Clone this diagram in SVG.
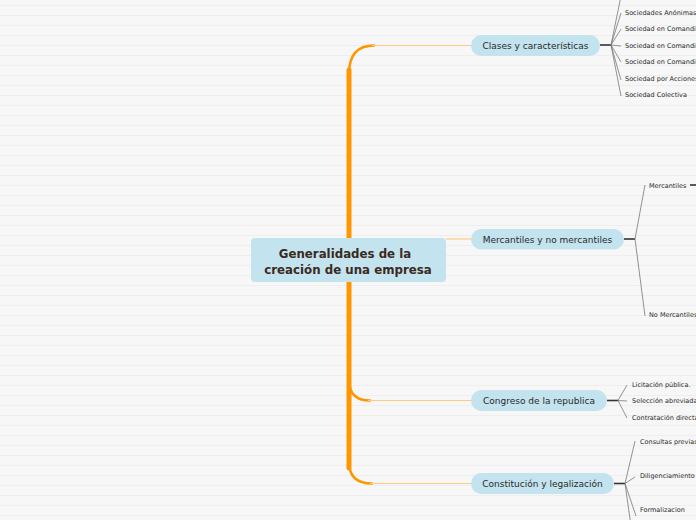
<svg xmlns="http://www.w3.org/2000/svg" width="696" height="520" viewBox="0 0 696 520">
<defs>
<pattern id="grid" width="10" height="10" patternUnits="userSpaceOnUse">
<rect width="10" height="10" fill="#f7f7f7"/>
<rect y="5" width="10" height="1" fill="#eeeeee"/>
</pattern>
</defs>
<style>
.trunk{fill:none;stroke:#ff9500;stroke-linecap:round}
.thin{fill:none;stroke:#ffcb80;stroke-width:1.2}
.fork{stroke:#333;stroke-width:1.6}
.leaf{stroke:#777;stroke-width:0.8;fill:none}
.pill{fill:#c3e3ef}
.nt{font-family:"DejaVu Sans",Verdana,sans-serif;font-size:9px;fill:#2a2a2a;text-anchor:middle}
.ct{font-family:"DejaVu Sans",Verdana,sans-serif;font-size:11.8px;font-weight:bold;fill:#3b2a1e;text-anchor:middle}
.lt{font-family:"DejaVu Sans",Verdana,sans-serif;font-size:6.5px;fill:#2a2a2a}
</style>
<rect width="696" height="520" fill="url(#grid)"/>
<g id="connectors">
<path class="trunk" d="M349,70 L349,468" stroke-width="5"/>
<path class="trunk" d="M349,74 Q349,45.5 374,45.5" stroke-width="2.5"/>
<path class="thin" d="M372,45.5 L472,45.5"/>
<path class="thin" d="M446,239 L472,239"/>
<path class="trunk" d="M349,380 Q349,400.5 370,400.5" stroke-width="2.5"/>
<path class="thin" d="M368,400.5 L472,400.5"/>
<path class="trunk" d="M349,462 Q349,483.5 372,483.5" stroke-width="2.5"/>
<path class="thin" d="M370,483.5 L472,483.5"/>
<line class="fork" x1="600" y1="45" x2="611" y2="45"/>
<path class="leaf" d="M611,45 L621,-4 M611,45 L621,13 M611,45 L621,29 M611,45 L621,46 M611,45 L621,62 M611,45 L621,80 M611,45 L621,96"/>
<line class="fork" x1="624" y1="239" x2="635" y2="239"/>
<path class="leaf" d="M635,239 L645,185 M635,239 L645,316"/>
<line class="fork" x1="690" y1="185" x2="696" y2="185"/>
<line class="fork" x1="607" y1="400.5" x2="618" y2="400.5"/>
<path class="leaf" d="M618,400.5 L627,385 M618,400.5 L627,401 M618,400.5 L627,418"/>
<line class="fork" x1="614" y1="483.5" x2="625" y2="483.5"/>
<path class="leaf" d="M625,483.5 L635,441 M625,483.5 L635,477 M625,483.5 L636,516 M625,483.5 L633,540"/>
</g>
<g id="root">
<rect x="251" y="238" width="195" height="44" rx="4" class="pill"/>
<text class="ct" x="345" y="258">Generalidades de la</text>
<text class="ct" x="348" y="274">creación de una empresa</text>
</g>
<g id="n-clases">
<rect x="471" y="35" width="129" height="21" rx="10.5" class="pill"/>
<text class="nt" x="535.5" y="48.5">Clases y características</text>
</g>
<g id="n-mercantiles">
<rect x="471" y="229" width="153" height="20.5" rx="10.25" class="pill"/>
<text class="nt" x="547.5" y="242.5">Mercantiles y no mercantiles</text>
</g>
<g id="n-congreso">
<rect x="471" y="390" width="136" height="21" rx="10.5" class="pill"/>
<text class="nt" x="539" y="403.5">Congreso de la republica</text>
</g>
<g id="n-constitucion">
<rect x="471" y="473" width="143" height="21" rx="10.5" class="pill"/>
<text class="nt" x="542.5" y="486.5">Constitución y legalización</text>
</g>
<g id="leaves-clases">
<text class="lt" x="625" y="15">Sociedades Anónimas</text>
<text class="lt" x="625" y="31">Sociedad en Comandi</text>
<text class="lt" x="625" y="47.5">Sociedad en Comandi</text>
<text class="lt" x="625" y="63.5">Sociedad en Comandi</text>
<text class="lt" x="625" y="80.5">Sociedad por Acciones</text>
<text class="lt" x="625" y="96.5">Sociedad Colectiva</text>
</g>
<g id="leaves-mercantiles">
<text class="lt" x="649" y="187.5">Mercantiles</text>
<text class="lt" x="649" y="316.5">No Mercantiles</text>
</g>
<g id="leaves-congreso">
<text class="lt" x="632" y="386.5">Licitación pública.</text>
<text class="lt" x="632" y="402.5">Selección abreviada</text>
<text class="lt" x="632" y="419.5">Contratación directa</text>
</g>
<g id="leaves-constitucion">
<text class="lt" x="640" y="443.5">Consultas previas</text>
<text class="lt" x="640" y="478">Diligenciamiento</text>
<text class="lt" x="640" y="511.5">Formalizacion</text>
</g>
</svg>
